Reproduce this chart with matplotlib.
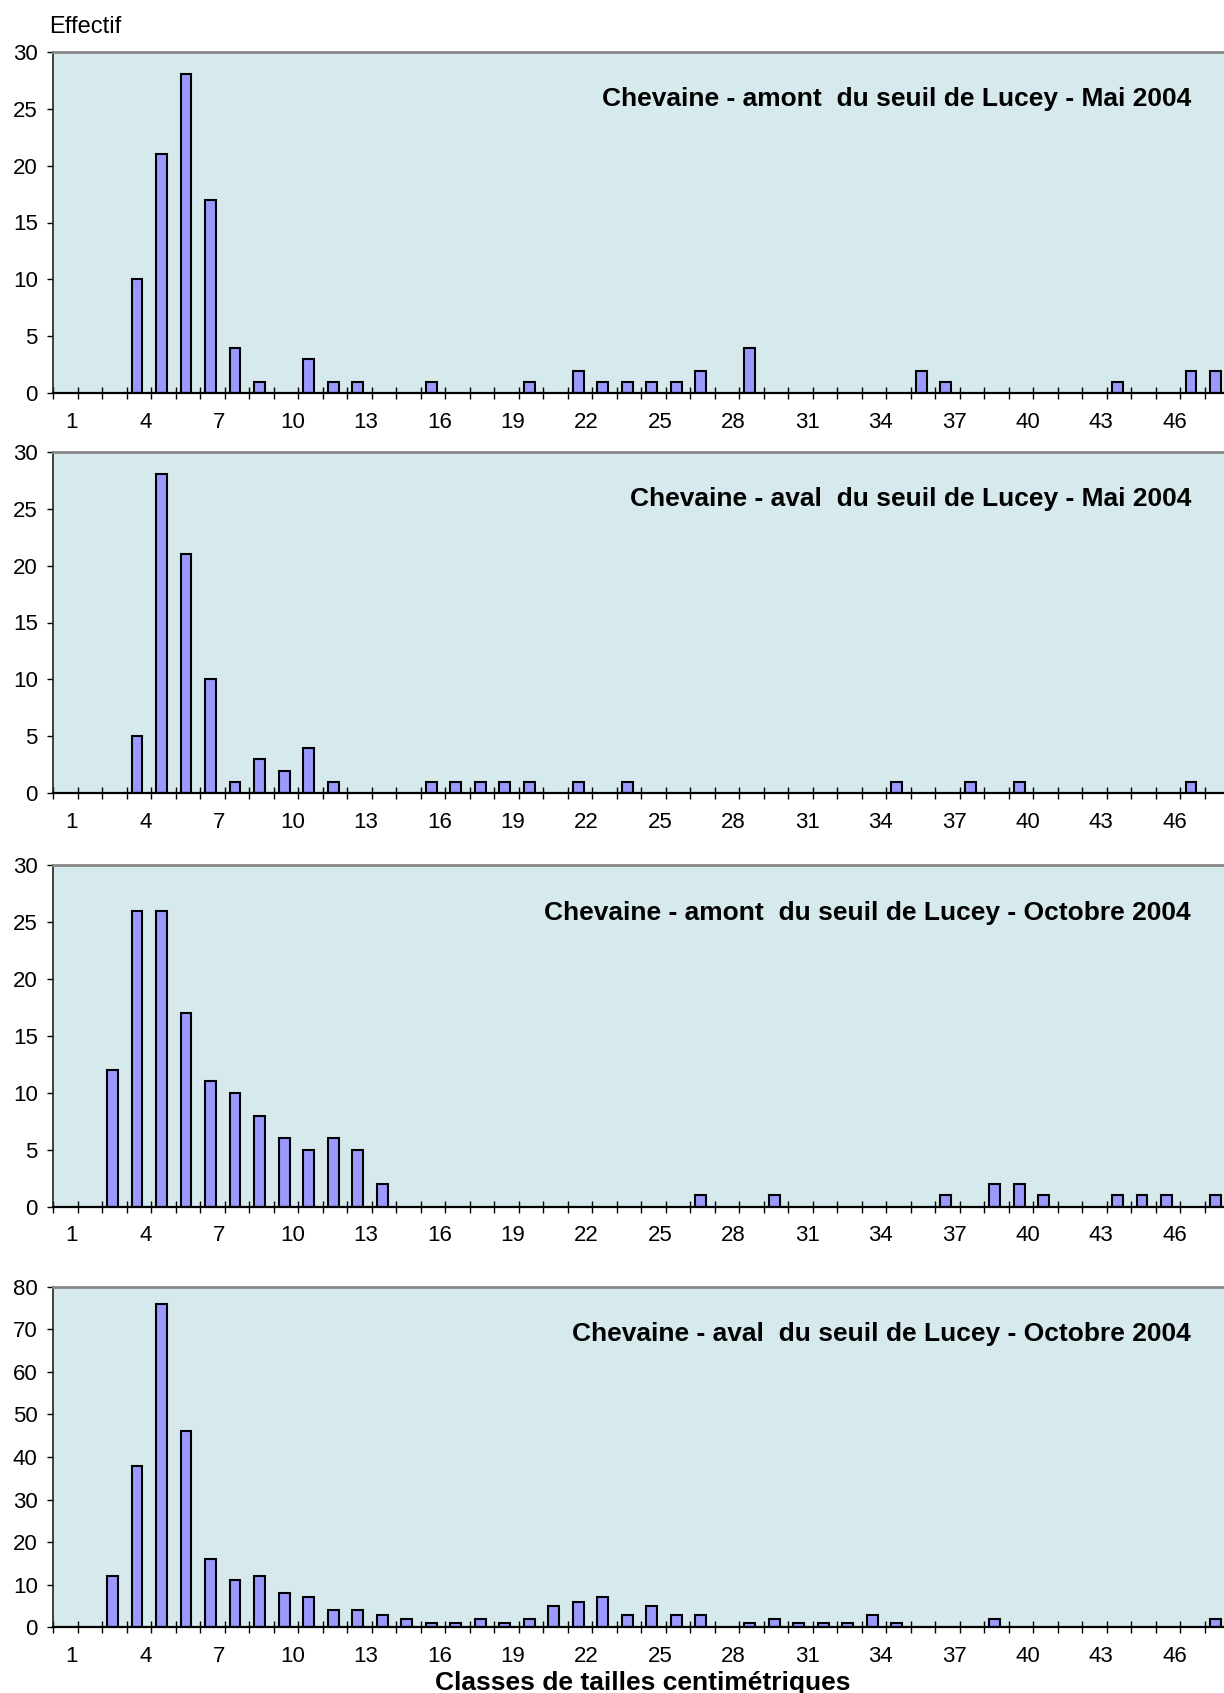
import matplotlib
matplotlib.use("Agg")
import matplotlib.pyplot as plt
import numpy as np

plt.rcParams['font.family'] = ['Liberation Sans', 'DejaVu Sans']

classes = list(range(1, 49))
tick_labels = [str(c) for c in range(1, 47, 3)]

amont_mai = [0, 0, 0, 10, 21, 28, 17, 4, 1, 0,
             3, 1, 1, 0, 0, 1, 0, 0, 0, 1,
             0, 2, 1, 1, 1, 1, 2, 0, 4, 0,
             0, 0, 0, 0, 0, 2, 1, 0, 0, 0,
             0, 0, 0, 1, 0, 0, 2, 2]
aval_mai = [0, 0, 0, 5, 28, 21, 10, 1, 3, 2,
            4, 1, 0, 0, 0, 1, 1, 1, 1, 1,
            0, 1, 0, 1, 0, 0, 0, 0, 0, 0,
            0, 0, 0, 0, 1, 0, 0, 1, 0, 1,
            0, 0, 0, 0, 0, 0, 1, 0]
amont_oct = [0, 0, 12, 26, 26, 17, 11, 10, 8, 6,
             5, 6, 5, 2, 0, 0, 0, 0, 0, 0,
             0, 0, 0, 0, 0, 0, 1, 0, 0, 1,
             0, 0, 0, 0, 0, 0, 1, 0, 2, 2,
             1, 0, 0, 1, 1, 1, 0, 1]
aval_oct = [0, 0, 12, 38, 76, 46, 16, 11, 12, 8,
            7, 4, 4, 3, 2, 1, 1, 2, 1, 2,
            5, 6, 7, 3, 5, 3, 3, 0, 1, 2,
            1, 1, 1, 3, 1, 0, 0, 0, 2, 0,
            0, 0, 0, 0, 0, 0, 0, 2]

titles = ["Chevaine - amont  du seuil de Lucey - Mai 2004",
          "Chevaine - aval  du seuil de Lucey - Mai 2004",
          "Chevaine - amont  du seuil de Lucey - Octobre 2004",
          "Chevaine - aval  du seuil de Lucey - Octobre 2004"]
series = [amont_mai, aval_mai, amont_oct, aval_oct]
ymaxes = [30, 30, 30, 80]
ysteps = [5, 5, 5, 10]

W, H = 1224, 1693
fig = plt.figure(figsize=(W / 100, H / 100), dpi=100)

# panel pixel extents (top, bottom)
panels = [(51.7, 393.3), (451.7, 793.3), (865.0, 1206.7), (1286.7, 1627.3)]
left_px = 53.0
right_px = 1229.4

bg = '#D6EAED'
barc = '#9999FF'

x = np.array(classes, dtype=float)
for (top, bot), vals, title, ymax, ystep in zip(panels, series, titles, ymaxes, ysteps):
    ax = fig.add_axes([left_px / W, 1 - bot / H, (right_px - left_px) / W, (bot - top) / H])
    ax.set_facecolor(bg)
    v = np.array(vals, dtype=float)
    m = v > 0
    ax.bar(x[m] - 0.07, v[m], width=0.44, color=barc, edgecolor='black',
           linewidth=1.5, zorder=3)
    ax.set_xlim(0.5, 48.5)
    ax.set_ylim(0, ymax)
    ax.set_yticks(np.arange(0, ymax + 1, ystep))
    ax.tick_params(axis='y', direction='out', length=4.5, width=1.0, pad=6.5,
                   labelsize=16, colors='black')
    # boundary ticks (major) crossing the axis
    ax.set_xticks(np.arange(0.5, 48.6, 1.0))
    ax.set_xticklabels([])
    ax.tick_params(axis='x', which='major', direction='inout', length=8, width=1.0)
    # labels (minor ticks without marks)
    ax.set_xticks([int(t) + 0.27 for t in tick_labels], minor=True)
    ax.set_xticklabels(tick_labels, minor=True)
    ax.tick_params(axis='x', which='minor', length=0, pad=13.5, labelsize=16)
    ax.spines['right'].set_visible(False)
    ax.spines['top'].set_color('#888888')
    ax.spines['top'].set_linewidth(2.0)
    ax.spines['left'].set_color('#222222')
    ax.spines['left'].set_linewidth(1.2)
    ax.spines['bottom'].set_color('black')
    ax.spines['bottom'].set_linewidth(1.6)
    ax.spines['bottom'].set_zorder(5)
    title_x = (1191 - left_px) / (right_px - left_px)
    title_y = 1 - 54.7 / (bot - top)
    ax.text(title_x, title_y, title, transform=ax.transAxes, ha='right',
            va='baseline', fontsize=19, fontweight='bold', color='black')

fig.text(49.4 / W, 1 - 32.7 / H, "Effectif", ha='left', va='baseline', fontsize=17)
fig.text(643 / W, 1 - 1690 / H, "Classes de tailles centimétriques", ha='center',
         va='baseline', fontsize=19, fontweight='bold')

fig.savefig("out.png", dpi=100)
